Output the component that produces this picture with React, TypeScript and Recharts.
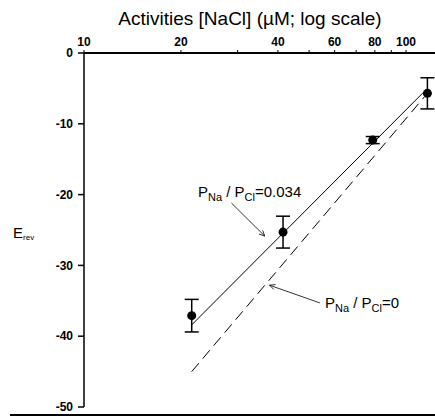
import { ScatterChart, Scatter, XAxis, YAxis, ErrorBar, ReferenceLine } from 'recharts'

// NaCl activities (µM) and measured reversal potentials (mV)
const activities = [21.6, 41.5, 78.8, 116.5]
const erevMean = [-37.1, -25.3, -12.3, -5.7]
const erevSem = [2.3, 2.25, 0.5, 2.2]

// fitted line PNa/PCl = 0.034
const fitX = [21.6, 113]
const fitY = [-38.4, -5.6]

// ideal line PNa/PCl = 0
const idealX = [21.6, 114]
const idealY = [-45, -6.2]

const xTicks = [10, 20, 30, 40, 50, 60, 70, 80, 90, 100]
const xTickLabels = ['10', '20', '', '40', '', '60', '', '80', '', '100']
const yTicks = [0, -10, -20, -30, -40, -50]

const points = activities.map((x, i) => ({ x, y: erevMean[i], err: erevSem[i] }))
const fitData = fitX.map((x, i) => ({ x, y: fitY[i] }))
const idealData = idealX.map((x, i) => ({ x, y: idealY[i] }))

const font = '"Liberation Sans", Arial, sans-serif'

const XTick = (props: any) => {
  const { x, y, payload } = props
  const idx = xTicks.indexOf(payload.value)
  const label = idx >= 0 ? xTickLabels[idx] : ''
  if (!label) return <g />
  return (
    <text x={x} y={y} textAnchor="middle" fontSize={12} fontWeight="bold" fontFamily={font} fill="#000">
      {label}
    </text>
  )
}

const Arrow = (props: any) => {
  const { x1, y1, x2, y2 } = props
  const a = Math.atan2(y2 - y1, x2 - x1)
  const len = 6
  const spread = 0.45
  const p1x = x2 - len * Math.cos(a - spread)
  const p1y = y2 - len * Math.sin(a - spread)
  const p2x = x2 - len * Math.cos(a + spread)
  const p2y = y2 - len * Math.sin(a + spread)
  return (
    <g>
      <line x1={x1} y1={y1} x2={x2} y2={y2} stroke="#000" strokeWidth={0.8} />
      <path d={`M${p1x},${p1y} L${x2},${y2} L${p2x},${p2y}`} fill="none" stroke="#000" strokeWidth={0.8} />
    </g>
  )
}

const noShape = () => <g />

export default function App() {
  return (
    <div style={{ position: 'relative', width: 435, height: 420, background: '#fff' }}>
      <style>{`body { margin: 0; }`}</style>
      <ScatterChart width={435} height={420} margin={{ top: 23, right: 0, bottom: 13, left: 24 }}>
        <XAxis
          type="number"
          dataKey="x"
          orientation="top"
          scale="log"
          domain={[10, 123]}
          allowDataOverflow
          ticks={xTicks}
          interval={0}
          height={30}
          tickSize={3}
          tickMargin={4}
          tick={<XTick />}
          axisLine={{ stroke: '#000', strokeWidth: 2 }}
          tickLine={{ stroke: '#000' }}
        />
        <YAxis
          type="number"
          dataKey="y"
          domain={[-50, 0]}
          ticks={yTicks}
          interval={0}
          width={60}
          tickSize={6}
          tickMargin={5}
          tick={{ fontSize: 12, fontWeight: 'bold', fontFamily: font, fill: '#000' }}
          axisLine={{ stroke: '#000', strokeWidth: 1.5 }}
          tickLine={{ stroke: '#000', strokeWidth: 1.5 }}
        />
        <Scatter
          data={idealData}
          line={{ stroke: '#000', strokeWidth: 1, strokeDasharray: '11 6' }}
          shape={noShape}
          isAnimationActive={false}
        />
        <Scatter
          data={fitData}
          line={{ stroke: '#000', strokeWidth: 1 }}
          shape={noShape}
          isAnimationActive={false}
        />
        <Scatter data={points} fill="#000" isAnimationActive={false}>
          <ErrorBar dataKey="err" direction="y" width={7} stroke="#000" strokeWidth={1.5} isAnimationActive={false} />
        </Scatter>
        <ReferenceLine
          segment={[{ x: 28.7, y: -21.2 }, { x: 36.4, y: -25.85 }]}
          shape={Arrow}
          ifOverflow="visible"
        />
        <ReferenceLine
          segment={[{ x: 54, y: -35.3 }, { x: 37.7, y: -32.8 }]}
          shape={Arrow}
          ifOverflow="visible"
        />
      </ScatterChart>
      <svg
        width={435}
        height={420}
        style={{ position: 'absolute', left: 0, top: 0, pointerEvents: 'none' }}
        fontFamily={font}
      >
        <text x={250} y={25} textAnchor="middle" fontSize={19}>
          Activities [NaCl] (µM; log scale)
        </text>
        <text x={13} y={238} fontSize={15}>
          E<tspan fontSize={8} dy={2}>rev</tspan>
        </text>
        <text x={198} y={197} fontSize={15}>
          P<tspan fontSize={11} dy={4}>Na</tspan>
          <tspan dy={-4}> / P</tspan>
          <tspan fontSize={11} dy={4}>Cl</tspan>
          <tspan dy={-4}>=0.034</tspan>
        </text>
        <text x={325} y={308} fontSize={15}>
          P<tspan fontSize={11} dy={4}>Na</tspan>
          <tspan dy={-4}> / P</tspan>
          <tspan fontSize={11} dy={4}>Cl</tspan>
          <tspan dy={-4}>=0</tspan>
        </text>
      </svg>
      <div style={{ position: 'absolute', left: 10, top: 414, width: 425, height: 2, background: '#000' }} />
    </div>
  )
}
